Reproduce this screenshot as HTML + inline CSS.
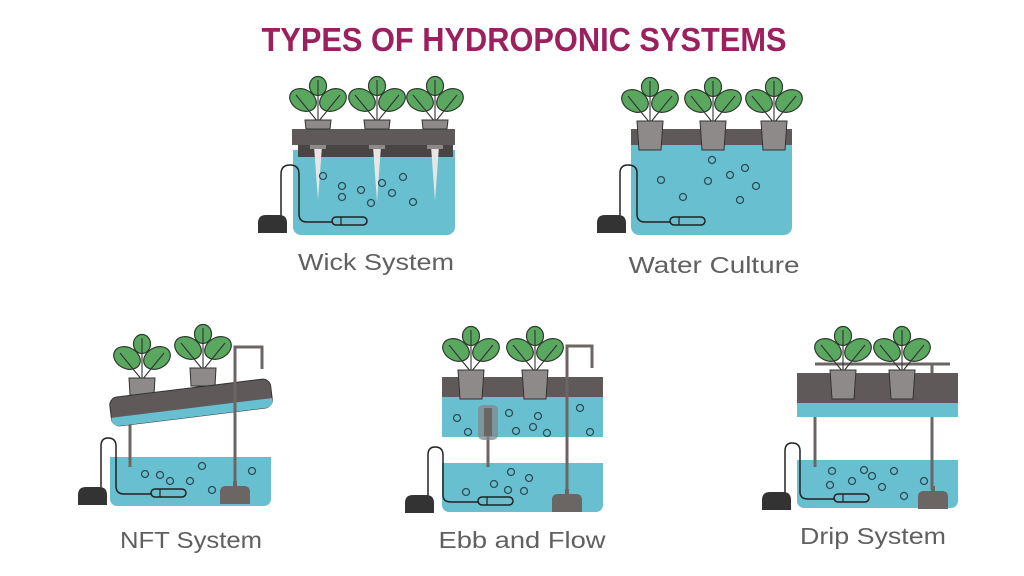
<!DOCTYPE html>
<html><head><meta charset="utf-8"><style>
html,body{margin:0;padding:0;background:#fff;}
svg{display:block}
text{font-family:"Liberation Sans",sans-serif}
</style></head><body>
<svg width="1024" height="576" viewBox="0 0 1024 576" xmlns="http://www.w3.org/2000/svg">
<defs>
  <g id="plant">
    <ellipse cx="-15" cy="-20" rx="14" ry="10.5" transform="rotate(28 -15 -20)" fill="#5aa860" stroke="#2e3a2e" stroke-width="1.2"/>
    <ellipse cx="15" cy="-20" rx="14" ry="10.5" transform="rotate(-28 15 -20)" fill="#5aa860" stroke="#2e3a2e" stroke-width="1.2"/>
    <ellipse cx="0" cy="-34" rx="8.5" ry="9.5" fill="#5aa860" stroke="#2e3a2e" stroke-width="1.2"/>
    <path d="M0,2 L-22,-25 M0,2 L22,-25 M0,2 L0,-40" stroke="#333" stroke-width="1.1" fill="none"/>
  </g>
  <g id="potS"><path d="M-13,0 H13 L12,9 H-12 Z" fill="#8e8a89" stroke="#333" stroke-width="1"/></g>
  <g id="potL"><path d="M-13,0 H13 L11,29 H-11 Z" fill="#8e8a89" stroke="#333" stroke-width="1"/></g>
  <g id="pump"><path d="M0,18 V8 Q0,0 8,0 H21 Q29,0 29,8 V18 Z" fill="#333"/></g>
  <g id="ipump"><path d="M0,22 V10 Q0,4 6,4 H13 V-1 H17 V4 H24 Q30,4 30,10 V22 Z" fill="#6b6564"/></g>
  <g id="stone"><rect x="0" y="0" width="35" height="8" rx="4" fill="none" stroke="#222" stroke-width="1.5"/><line x1="9" y1="0" x2="9" y2="8" stroke="#222" stroke-width="1.2"/></g>
</defs>

<text x="524" y="51" text-anchor="middle" font-size="33" font-weight="bold" fill="#9c1f5e" textLength="525" lengthAdjust="spacingAndGlyphs">TYPES OF HYDROPONIC SYSTEMS</text>

<!-- WICK -->
<rect x="293" y="150" width="162" height="85" rx="8" fill="#68bfcf"/>
<rect x="293" y="150" width="162" height="10" fill="#68bfcf"/>
<rect x="298" y="144" width="155" height="13" fill="#4a4545"/>
<rect x="292" y="129" width="163" height="16" fill="#5f5a59"/>
<g fill="#e6e6e6"><path d="M314,146 h8 l-4,54z"/><path d="M373,146 h8 l-4,56z"/><path d="M431,146 h8 l-4,55z"/></g>
<g fill="#8e8a89"><rect x="310" y="145" width="16" height="4"/><rect x="369" y="145" width="16" height="4"/><rect x="427" y="145" width="16" height="4"/></g>
<use href="#plant" x="318" y="120"/><use href="#potS" x="318" y="120"/>
<use href="#plant" x="377" y="120"/><use href="#potS" x="377" y="120"/>
<use href="#plant" x="435" y="120"/><use href="#potS" x="435" y="120"/>
<g fill="none" stroke="#2d4c57" stroke-width="1.3">
<circle cx="323" cy="176" r="3.5"/><circle cx="342" cy="186" r="3.5"/><circle cx="361" cy="190" r="3.5"/><circle cx="382" cy="183" r="3.5"/><circle cx="392" cy="193" r="3.5"/><circle cx="403" cy="177" r="3.5"/><circle cx="413" cy="202" r="3.5"/><circle cx="371" cy="203" r="3.5"/><circle cx="342" cy="197" r="3.5"/>
</g>
<path d="M281,216 V174 Q281,165 290,165 Q299,165 299,174 V214 Q299,222 307,222 H333" fill="none" stroke="#222" stroke-width="1.5"/>
<use href="#stone" x="332" y="217"/>
<use href="#pump" x="258" y="215"/>
<text x="376" y="270" text-anchor="middle" font-size="23" fill="#606060" textLength="156" lengthAdjust="spacingAndGlyphs">Wick System</text>

<!-- WATER CULTURE -->
<rect x="631" y="145" width="161" height="90" rx="8" fill="#68bfcf"/>
<rect x="631" y="145" width="161" height="10" fill="#68bfcf"/>
<rect x="631" y="129" width="161" height="16" fill="#5f5a59"/>
<use href="#plant" x="650" y="121"/><use href="#potL" x="650" y="121"/>
<use href="#plant" x="713" y="121"/><use href="#potL" x="713" y="121"/>
<use href="#plant" x="774" y="121"/><use href="#potL" x="774" y="121"/>
<g fill="none" stroke="#2d4c57" stroke-width="1.3">
<circle cx="712" cy="160" r="3.5"/><circle cx="661" cy="180" r="3.5"/><circle cx="708" cy="181" r="3.5"/><circle cx="730" cy="175" r="3.5"/><circle cx="745" cy="168" r="3.5"/><circle cx="756" cy="186" r="3.5"/><circle cx="683" cy="197" r="3.5"/><circle cx="740" cy="200" r="3.5"/>
</g>
<path d="M620,216 V173 Q620,165 628,165 Q637,165 637,173 V214 Q637,222 645,222 H671" fill="none" stroke="#222" stroke-width="1.5"/>
<use href="#stone" x="670" y="217"/>
<use href="#pump" x="597" y="215"/>
<text x="714" y="273" text-anchor="middle" font-size="23" fill="#606060" textLength="171" lengthAdjust="spacingAndGlyphs">Water Culture</text>

<!-- NFT -->
<rect x="110" y="457" width="161" height="49" rx="7" fill="#68bfcf"/>
<rect x="110" y="457" width="161" height="10" fill="#68bfcf"/>
<line x1="130" y1="420" x2="130" y2="467" stroke="#6b6564" stroke-width="3"/>
<use href="#plant" x="142" y="378"/>
<path d="M129,378 H155 L154,395 H130 Z" fill="#8e8a89" stroke="#333" stroke-width="1"/>
<use href="#plant" x="203" y="368"/>
<path d="M190,368 H216 L215,386 H191 Z" fill="#8e8a89" stroke="#333" stroke-width="1"/>
<g transform="rotate(-7 191 402)">
  <rect x="110" y="388" width="162" height="29" rx="8" fill="#5f5a59" stroke="#333" stroke-width="1"/>
  <path d="M110,408 H272 V409 Q272,417 264,417 H118 Q110,417 110,409 Z" fill="#68bfcf"/>
</g>
<path d="M235,482 V347 H262 V369" fill="none" stroke="#6b6564" stroke-width="3"/>
<use href="#ipump" x="220" y="482"/>
<g fill="none" stroke="#2d4c57" stroke-width="1.3">
<circle cx="145" cy="474" r="3.5"/><circle cx="160" cy="475" r="3.5"/><circle cx="170" cy="481" r="3.5"/><circle cx="190" cy="481" r="3.5"/><circle cx="202" cy="466" r="3.5"/><circle cx="212" cy="490" r="3.5"/><circle cx="252" cy="471" r="3.5"/>
</g>
<path d="M101,488 V446 Q101,438 108,438 Q116,438 116,446 V486 Q116,494 124,494 H152" fill="none" stroke="#222" stroke-width="1.5"/>
<use href="#stone" x="151" y="489"/>
<use href="#pump" x="78" y="487"/>
<text x="191" y="548" text-anchor="middle" font-size="23" fill="#606060" textLength="142" lengthAdjust="spacingAndGlyphs">NFT System</text>

<!-- EBB AND FLOW -->
<rect x="442" y="463" width="161" height="49" rx="7" fill="#68bfcf"/>
<rect x="442" y="463" width="161" height="10" fill="#68bfcf"/>
<rect x="442" y="397" width="161" height="40" fill="#68bfcf"/>
<rect x="442" y="377" width="161" height="20" fill="#5f5a59"/>
<use href="#plant" x="471" y="370"/><use href="#potL" x="471" y="370"/>
<use href="#plant" x="535" y="370"/><use href="#potL" x="535" y="370"/>
<line x1="488" y1="430" x2="488" y2="467" stroke="#6b6564" stroke-width="3"/>
<rect x="478" y="405" width="20" height="35" rx="5" fill="#7f8a8c" opacity="0.75"/>
<rect x="484" y="408" width="8" height="28" fill="#6b6564"/>
<path d="M567,491 V346 H592 V368" fill="none" stroke="#6b6564" stroke-width="3"/>
<use href="#ipump" x="552" y="490"/>
<g fill="none" stroke="#2d4c57" stroke-width="1.3">
<circle cx="457" cy="418" r="3.5"/><circle cx="468" cy="432" r="3.5"/><circle cx="509" cy="413" r="3.5"/><circle cx="516" cy="431" r="3.5"/><circle cx="533" cy="427" r="3.5"/><circle cx="538" cy="416" r="3.5"/><circle cx="547" cy="433" r="3.5"/><circle cx="580" cy="408" r="3.5"/><circle cx="590" cy="432" r="3.5"/>
<circle cx="511" cy="472" r="3.5"/><circle cx="529" cy="478" r="3.5"/><circle cx="494" cy="484" r="3.5"/><circle cx="508" cy="490" r="3.5"/><circle cx="524" cy="491" r="3.5"/><circle cx="466" cy="492" r="3.5"/>
</g>
<path d="M428,496 V455 Q428,447 435,447 Q443,447 443,455 V495 Q443,502 451,502 H479" fill="none" stroke="#222" stroke-width="1.5"/>
<use href="#stone" x="478" y="497"/>
<use href="#pump" x="405" y="495"/>
<text x="522" y="548" text-anchor="middle" font-size="23" fill="#606060" textLength="167" lengthAdjust="spacingAndGlyphs">Ebb and Flow</text>

<!-- DRIP -->
<rect x="797" y="460" width="161" height="48" rx="7" fill="#68bfcf"/>
<rect x="797" y="460" width="161" height="10" fill="#68bfcf"/>
<rect x="797" y="403" width="161" height="14" fill="#68bfcf"/>
<rect x="797" y="373" width="161" height="30" fill="#5f5a59"/>
<line x1="815" y1="364" x2="950" y2="364" stroke="#6b6564" stroke-width="3"/>
<line x1="932" y1="364" x2="932" y2="373" stroke="#6b6564" stroke-width="3"/>
<use href="#plant" x="843" y="370"/><use href="#potL" x="843" y="370"/>
<use href="#plant" x="902" y="370"/><use href="#potL" x="902" y="370"/>
<line x1="815" y1="417" x2="815" y2="467" stroke="#6b6564" stroke-width="3"/>
<line x1="932" y1="417" x2="932" y2="490" stroke="#6b6564" stroke-width="3"/>
<use href="#ipump" x="918" y="487"/>
<g fill="none" stroke="#2d4c57" stroke-width="1.3">
<circle cx="832" cy="471" r="3.5"/><circle cx="864" cy="470" r="3.5"/><circle cx="872" cy="476" r="3.5"/><circle cx="894" cy="471" r="3.5"/><circle cx="852" cy="481" r="3.5"/><circle cx="882" cy="487" r="3.5"/><circle cx="830" cy="485" r="3.5"/><circle cx="904" cy="496" r="3.5"/><circle cx="924" cy="481" r="3.5"/>
</g>
<path d="M785,493 V451 Q785,443 792,443 Q800,443 800,451 V492 Q800,499 808,499 H835" fill="none" stroke="#222" stroke-width="1.5"/>
<use href="#stone" x="834" y="494"/>
<use href="#pump" x="762" y="492"/>
<text x="873" y="544" text-anchor="middle" font-size="23" fill="#606060" textLength="146" lengthAdjust="spacingAndGlyphs">Drip System</text>
</svg>
</body></html>
